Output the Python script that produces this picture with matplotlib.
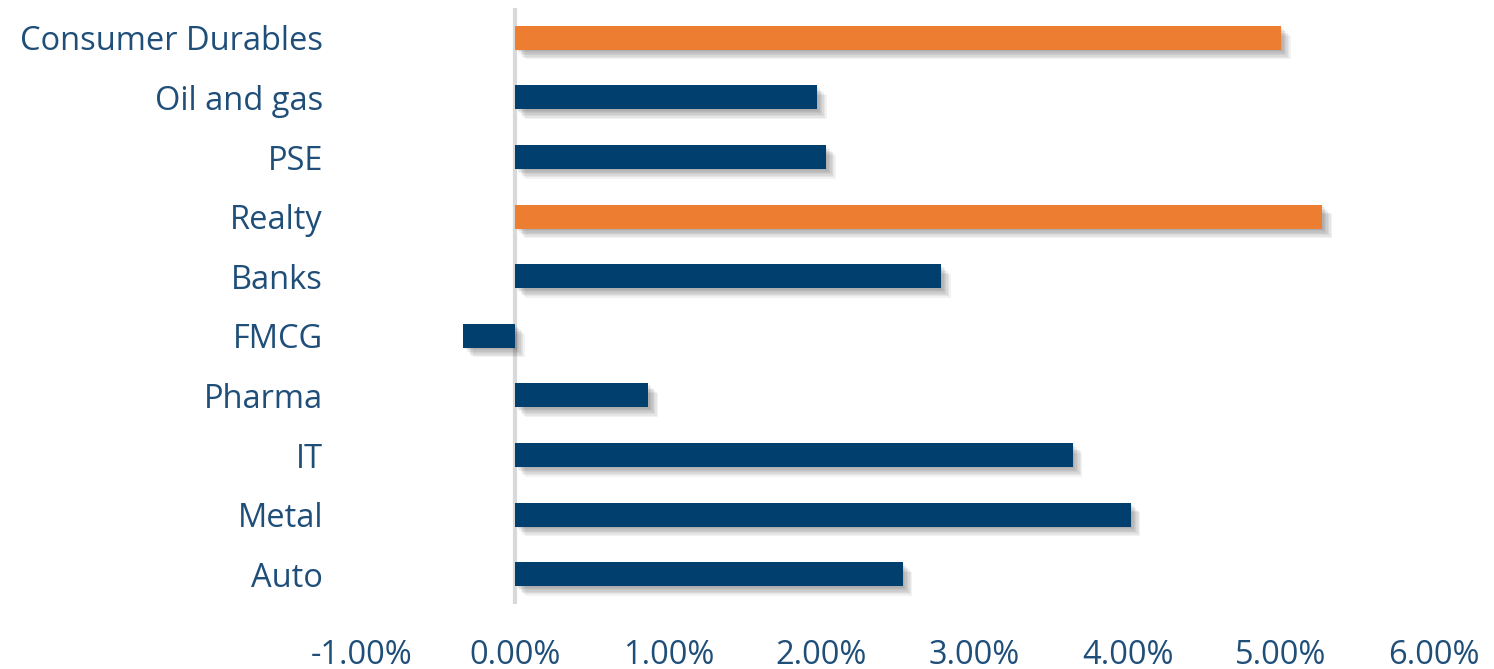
import matplotlib.pyplot as plt
import matplotlib.patheffects as pe
from matplotlib.ticker import FuncFormatter

# sector returns, in percent (top to bottom as shown)
sectors = ['Consumer Durables', 'Oil and gas', 'PSE', 'Realty', 'Banks',
           'FMCG', 'Pharma', 'IT', 'Metal', 'Auto']
returns = [5.00, 1.97, 2.03, 5.27, 2.78, -0.34, 0.87, 3.64, 4.02, 2.53]
highlight = ['Consumer Durables', 'Realty']

blue = '#003f6e'
orange = '#ed7d31'
text_col = '#1f4e79'

fig = plt.figure(figsize=(14.94, 6.69), dpi=100)
ax = fig.add_axes([362 / 1494, 1 - 604 / 669, (1434 - 362) / 1494, 596 / 669])

ypos = list(range(len(sectors)))[::-1]
colors = [orange if s in highlight else blue for s in sectors]

# soft drop shadow: a few offset layers
shadow = [pe.SimplePatchShadow(offset=(d, -d), shadow_rgbFace='black', alpha=0.05)
          for d in (1, 2, 3, 4, 5, 6, 7)] + [pe.Normal()]

bars = ax.barh(ypos, returns, height=0.4, color=colors, zorder=3)
for b in bars:
    b.set_path_effects(shadow)

ax.axvline(0, color='#d9d9d9', lw=3, zorder=2)

ax.set_xlim(-1, 6)
ax.set_ylim(-0.5, len(sectors) - 0.5)
ax.set_xticks(range(-1, 7))
ax.xaxis.set_major_formatter(FuncFormatter(lambda v, p: f'{v:.2f}%'))
ax.set_yticks(ypos)
ax.set_yticklabels(sectors)

for s in ax.spines.values():
    s.set_visible(False)
ax.tick_params(length=0, labelsize=23.5, labelcolor=text_col)
ax.tick_params(axis='y', pad=28)
ax.tick_params(axis='x', pad=25)
for lbl in ax.get_xticklabels() + ax.get_yticklabels():
    lbl.set_fontfamily('Open Sans')

fig.savefig('out.png', dpi=100)
